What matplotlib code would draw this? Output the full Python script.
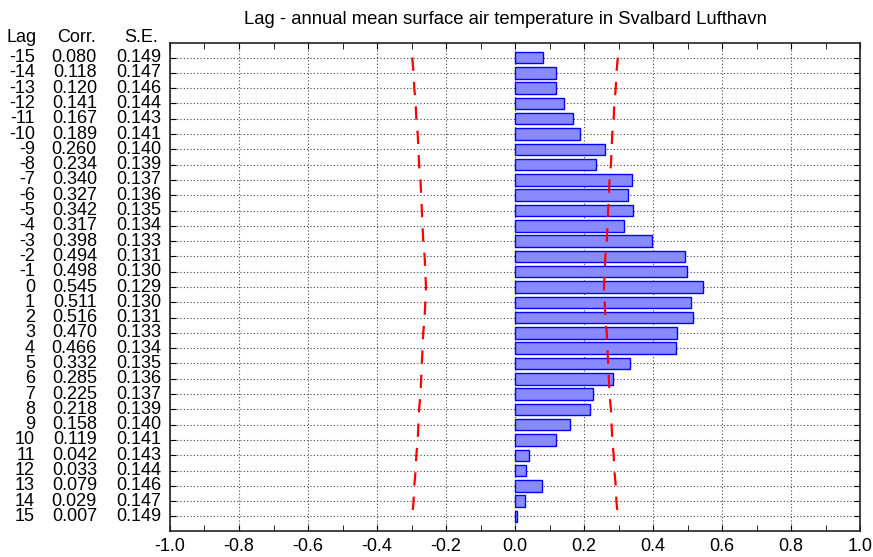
import matplotlib
matplotlib.use("Agg")
import matplotlib.pyplot as plt
import matplotlib.transforms as mtransforms
from matplotlib.ticker import MultipleLocator

plt.rcParams['font.family'] = ['Liberation Sans', 'DejaVu Sans']

lags = list(range(-15, 16))
corr = [0.080, 0.118, 0.120, 0.141, 0.167, 0.189, 0.260, 0.234, 0.340, 0.327,
        0.342, 0.317, 0.398, 0.494, 0.498, 0.545, 0.511, 0.516, 0.470, 0.466,
        0.332, 0.285, 0.225, 0.218, 0.158, 0.119, 0.042, 0.033, 0.079, 0.029,
        0.007]
se = [0.149, 0.147, 0.146, 0.144, 0.143, 0.141, 0.140, 0.139, 0.137, 0.136,
      0.135, 0.134, 0.133, 0.131, 0.130, 0.129, 0.130, 0.131, 0.133, 0.134,
      0.135, 0.136, 0.137, 0.139, 0.140, 0.141, 0.143, 0.144, 0.146, 0.147,
      0.149]
title = "Lag - annual mean surface air temperature in Svalbard Lufthavn"

fig = plt.figure(figsize=(8.73, 5.57), dpi=100)
ax = fig.add_axes([170/873, 1-531/557, (860-170)/873, (531-43)/557])

ax.barh(lags, corr, height=0.75, color='#8a8aff', edgecolor='#0000ff',
        linewidth=1.0, zorder=3)

# confidence limits at +/- 2 standard errors
upper = [2*s for s in se]
lower = [-2*s for s in se]
ax.plot(upper, lags, color='#ff0000', linewidth=1.6, linestyle=(0, (6, 5)), zorder=4)
ax.plot(lower, lags, color='#ff0000', linewidth=1.6, linestyle=(0, (6, 5)), zorder=4)

ax.set_xlim(-1.0, 1.0)
ax.set_ylim(15.95, -15.95)
ax.xaxis.set_major_locator(MultipleLocator(0.2))
ax.xaxis.set_minor_locator(MultipleLocator(0.1))
ax.set_yticks(lags)
ax.set_yticklabels([])
ax.tick_params(axis='x', which='both', direction='in', top=True, bottom=True,
               labelsize=13, pad=5, length=4)
ax.tick_params(axis='y', direction='in', left=True, right=True, length=4)
ax.xaxis.set_major_formatter(matplotlib.ticker.FuncFormatter(lambda v, p: f"{v:.1f}"))
ax.grid(True, which='major', axis='both', color='#444444', linestyle=(0, (1, 2)),
        linewidth=0.8, zorder=0)
for s in ax.spines.values():
    s.set_linewidth(1.2)
    s.set_color('#222222')

# table of lag, correlation and standard error to the left of the plot
tr = mtransforms.blended_transform_factory(fig.transFigure, ax.transData)
fs = 13
for lag, c, e in zip(lags, corr, se):
    ax.text(35/873, lag, f"{lag}", transform=tr, ha='right', va='center', fontsize=fs, clip_on=False)
    ax.text(97/873, lag, f"{c:.3f}", transform=tr, ha='right', va='center', fontsize=fs, clip_on=False)
    ax.text(161/873, lag, f"{e:.3f}", transform=tr, ha='right', va='center', fontsize=fs, clip_on=False)

hy = 1 - 37/557
fig.text(22/873, hy, "Lag", ha='center', va='center', fontsize=fs)
fig.text(76/873, hy, "Corr.", ha='center', va='center', fontsize=fs)
fig.text(141/873, hy, "S.E.", ha='center', va='center', fontsize=fs)
fig.text(505/873, 1 - 20/557, title, ha='center', va='center', fontsize=13.3)

fig.savefig("out.png", dpi=100)
